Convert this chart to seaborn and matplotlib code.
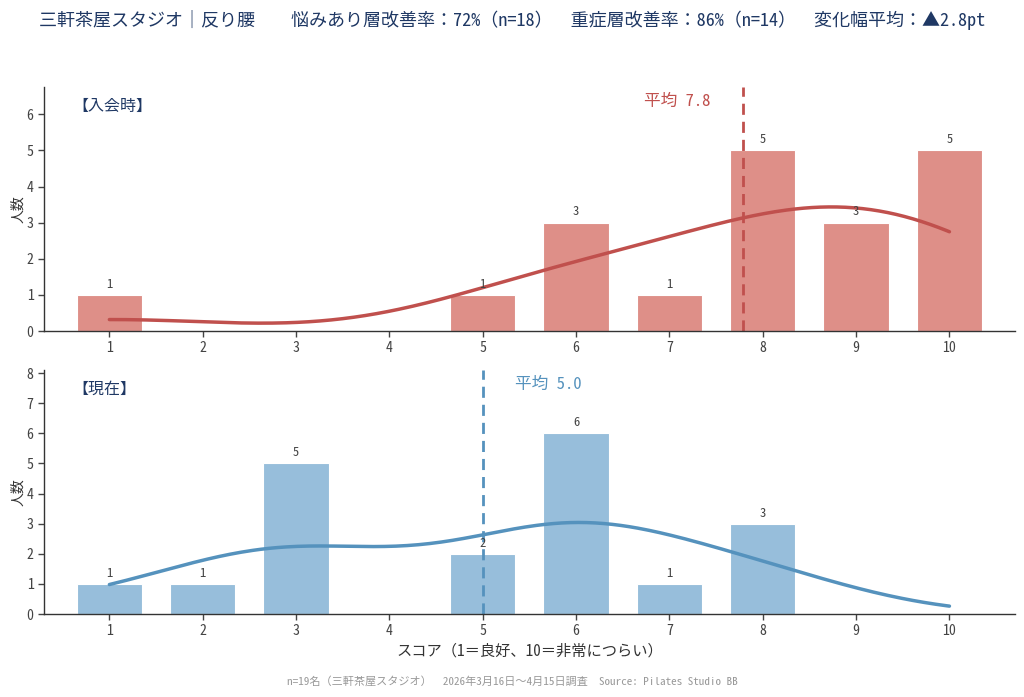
import numpy as np
import pandas as pd
import matplotlib
matplotlib.use("Agg")
import matplotlib.pyplot as plt
import matplotlib.transforms as mtransforms
import seaborn as sns

# ---- data ----
scores = [1, 2, 3, 4, 5, 6, 7, 8, 9, 10]
before_counts = [1, 0, 0, 0, 1, 3, 1, 5, 3, 5]
after_counts = [1, 1, 5, 0, 2, 6, 1, 3, 0, 0]
panel_labels = ["【入会時】", "【現在】"]
title_text = ("三軒茶屋スタジオ｜反り腰　　悩みあり層改善率：72%（n=18）　"
              "重症層改善率：86%（n=14）　変化幅平均：▲2.8pt")
footer_text = "n=19名（三軒茶屋スタジオ）　2026年3月16日～4月15日調査　Source: Pilates Studio BB"
xlabel_text = "スコア（1＝良好、10＝非常につらい）"
ylabel_text = "人数"

sns.set_theme(style="white")
plt.rcParams['font.family'] = ['Noto Sans Mono CJK JP', 'Noto Sans CJK JP', 'DejaVu Sans']
plt.rcParams['axes.unicode_minus'] = False

navy = "#1f3864"
styles = [
    dict(bar="#de8f88", line="#c0504d", ha="right", off=-0.35),
    dict(bar="#97bedb", line="#5592bd", ha="left", off=0.35),
]

fig = plt.figure(figsize=(10.24, 6.97), dpi=100)
ax1 = fig.add_axes([0.043, 0.525, 0.948, 0.350])
ax2 = fig.add_axes([0.043, 0.119, 0.948, 0.350])


def kde_counts(vals, weights, grid):
    vals = np.asarray(vals, float)
    w = np.asarray(weights, float)
    n = w.sum()
    mean = (vals * w).sum() / n
    var = (w * (vals - mean) ** 2).sum() / (n - 1)
    bw = np.sqrt(var) * n ** (-1 / 5)
    dens = np.zeros_like(grid)
    for v, c in zip(vals, w):
        dens += c * np.exp(-0.5 * ((grid - v) / bw) ** 2) / (bw * np.sqrt(2 * np.pi))
    return dens, mean  # counts-scaled (binwidth 1)


for ax, counts, st, lab in zip([ax1, ax2], [before_counts, after_counts], styles, panel_labels):
    df = pd.DataFrame({"score": scores, "count": counts})
    sns.histplot(data=df, x="score", weights="count", discrete=True, shrink=0.7,
                 color=st["bar"], alpha=1.0, edgecolor="white", linewidth=0.8, ax=ax)
    for cont in ax.containers:
        labels = [str(int(h.get_height())) if h.get_height() > 0 else "" for h in cont]
        ax.bar_label(cont, labels=labels, padding=3, fontsize=9, color="#444444")

    grid = np.linspace(1, 10, 300)
    dens, mean = kde_counts(scores, counts, grid)
    sns.lineplot(x=grid, y=dens, color=st["line"], linewidth=2.5, ax=ax)

    ax.axvline(mean, color=st["line"], linestyle=(0, (4, 2.5)), linewidth=2)
    trans = mtransforms.blended_transform_factory(ax.transData, ax.transAxes)
    ax.text(mean + st["off"], 0.94, f"平均 {mean:.1f}", transform=trans, ha=st["ha"],
            va="center", fontsize=12, color=st["line"])
    ax.text(0.029, 0.92, lab, transform=ax.transAxes, ha="left", va="center",
            fontsize=11.5, color=navy)

    ax.set_xlim(0.3, 10.7)
    ax.set_ylim(0, max(counts) * 1.35)
    ax.set_xticks(scores)
    ax.set_xticklabels([str(s) for s in scores])
    ax.set_yticks(range(0, int(max(counts) * 1.35) + 1))
    ax.set_ylabel(ylabel_text, fontsize=10, color="#333333", labelpad=1)
    ax.set_xlabel("")
    ax.tick_params(axis="both", labelsize=10, colors="#444444", length=4, width=1,
                   bottom=True, left=True, direction="out")
    for s in ["top", "right"]:
        ax.spines[s].set_visible(False)
    for s in ["left", "bottom"]:
        ax.spines[s].set_color("#333333")
        ax.spines[s].set_linewidth(1.0)
    ax.grid(False)

ax2.set_xlabel(xlabel_text, fontsize=11, color="#333333")

fig.text(0.5, 0.971, title_text, ha="center", va="center", fontsize=13, color=navy)
fig.text(0.5, 0.022, footer_text, ha="center", va="center", fontsize=8, color="#999999")

fig.savefig("out.png", dpi=100)
